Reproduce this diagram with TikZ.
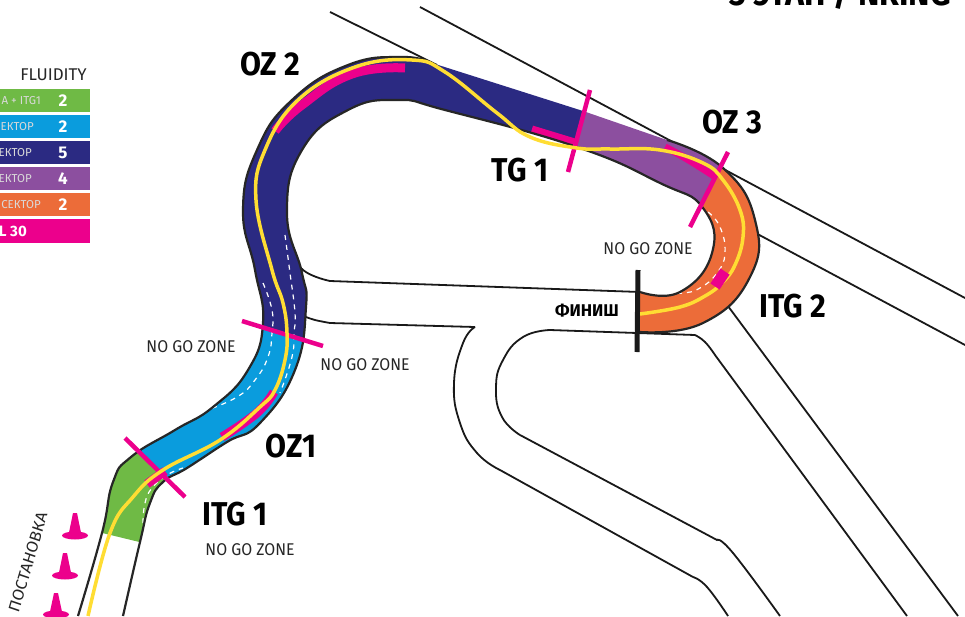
\documentclass[tikz,border=0pt]{standalone}
\usepackage{fontspec}
\setmainfont{Fira Sans}
\definecolor{itggreen}{HTML}{6FBA45}
\definecolor{zoneblue}{HTML}{0A9CDD}
\definecolor{zonenavy}{HTML}{2B2A82}
\definecolor{zonepurple}{HTML}{8C4F9F}
\definecolor{zoneorange}{HTML}{EC6C39}
\definecolor{ozpink}{HTML}{EC008C}
\definecolor{racingline}{HTML}{FFDD33}
\tikzset{
  outerone/.style={insert path={plot[smooth,tension=0.8] coordinates {(78,616) (102,533) (113,482) (131,457) (175,430) (213,407) (248,370) (263,323) (255,270) (243,210) (257,150) (292,100) (348,65) (402,57) (432,63)}}},
  outertwo/.style={insert path={plot[smooth,tension=0.8] coordinates {(667,140) (723,168) (755,220) (750,277) (703,323) (640,332)}}},
  innerpath/.style={insert path={plot[smooth,tension=0.8] coordinates {(640,292) (680,292) (712,253) (703,208) (660,183) (577,147) (445,110) (398,100) (348,110) (302,150) (287,213) (302,273) (306,307) (295,370) (260,423) (227,442) (187,468) (163,482) (150,503) (140,542) (123,616)}}},
  trackshape/.style={insert path={plot[smooth,tension=0.8] coordinates {(78,616) (102,533) (113,482) (131,457) (175,430) (213,407) (248,370) (263,323) (255,270) (243,210) (257,150) (292,100) (348,65) (402,57) (432,63)} -- (583,111) -- plot[smooth,tension=0.8] coordinates {(667,140) (723,168) (755,220) (750,277) (703,323) (640,332)} -- plot[smooth,tension=0.8] coordinates {(640,292) (680,292) (712,253) (703,208) (660,183) (577,147) (445,110) (398,100) (348,110) (302,150) (287,213) (302,273) (306,307) (295,370) (260,423) (227,442) (187,468) (163,482) (150,503) (140,542) (123,616)} -- cycle}},
  roadline/.style={draw=black!90,line width=1.8pt},
  trackedge/.style={draw=black!85,line width=2.2pt},
  whitedash/.style={draw=white,line width=1.2pt,dash pattern=on 5pt off 5pt},
  ozband/.style={draw=ozpink,line width=9pt},
  heading/.style={font=\fontsize{33}{33}\bfseries,text=black,inner sep=0pt,xscale=.92},
  nogo/.style={font=\fontsize{17}{17}\selectfont,text=black!85,inner sep=0pt,xscale=.93},
  legendrow/.style={minimum width=90pt,minimum height=23.5pt,inner sep=0pt,anchor=west},
  legendtext/.style={font=\fontsize{11.5}{11.5}\selectfont,text=white!85!black,inner sep=0pt,anchor=east},
  legendnum/.style={font=\fontsize{17}{17}\bfseries,text=white,inner sep=0pt}
}
\begin{document}
\begin{tikzpicture}[x=1pt,y=-1pt]
  \useasboundingbox (0,0) rectangle (965,616);
  \clip (0,0) rectangle (965,616);
  \fill[white] (0,0) rectangle (965,616);
  \begin{scope}[every path/.style={roadline}]
    \path (330,12) -- (437,65);
    \path (420,7) -- (965,298);
    \path (750,230) -- (965,345);
    \path plot[smooth,tension=0.8] coordinates {(290,248) (303,270) (330,281)} -- (640,292);
    \path plot[smooth,tension=0.5] coordinates {(300,315) (315,320) (330,323)} -- (475,327);
    \path plot[smooth,tension=0.8] coordinates {(475,327) (463,343) (454,383) (460,423) (477,453) (500,470)} -- (693,577);
    \path plot[smooth,tension=0.8] coordinates {(693,577) (707,587) (728,616)};
    \path plot[smooth,tension=0.8] coordinates {(780,616) (733,553) (717,540)} -- (520,435);
    \path plot[smooth,tension=0.8] coordinates {(520,435) (502,417) (496,388) (503,360) (523,337) (550,330)} -- (695,335);
    \path plot[smooth,tension=0.8] coordinates {(695,335) (705,342) (715,355)} -- (907,616);
    \path (722,298) -- (958,616);
  \end{scope}
  \begin{scope}
    \clip[trackshape];
    \fill[itggreen] (90,530) -- (160,547) -- (199,511) -- (110,423) -- cycle;
    \fill[zoneblue] (110,423) -- (199,511) -- (340,450) -- (335,348) -- (230,318) -- cycle;
    \fill[zonenavy] (230,318) -- (335,348) -- (420,200) -- (562,194) -- (597,64) -- (597,40) -- (220,40) -- cycle;
    \fill[zonepurple] (597,64) -- (735,138) -- (683,240) -- (562,194) -- cycle;
    \fill[zoneorange] (735,138) -- (800,150) -- (800,360) -- (638,360) -- (640,262) -- (683,240) -- cycle;
  \end{scope}
  \begin{scope}[every path/.style={whitedash}]
    \path plot[smooth,tension=0.8] coordinates {(708,212) (720,227) (725,253) (717,273) (700,288) (683,293) (663,293)};
    \path plot[smooth,tension=0.8] coordinates {(285,235) (290,273) (295,313) (294,333) (292,357) (280,393)};
    \path plot[smooth,tension=0.8] coordinates {(263,283) (272,310) (272,333) (268,357) (255,380) (237,397) (207,410)};
    \path plot[smooth,tension=0.8] coordinates {(143,523) (145,503) (152,488) (167,475) (183,468)};
  \end{scope}
  \draw[ozband] plot[smooth,tension=0.8] coordinates {(222,437) (245,422) (262,408) (274,392)};
  \draw[ozband] (147,484) -- (165,471);
  \draw[ozband] plot[smooth,tension=0.8] coordinates {(275,131) (302,105) (352,74) (405,68)};
  \draw[ozband,line width=7pt] (532,129) -- (578,143);
  \draw[ozband,line width=7pt] plot[smooth,tension=0.8] coordinates {(665,147) (687,159) (714,176)};
  \draw[trackedge,outerone];
  \draw[trackedge,outertwo];
  \draw[trackedge,innerpath];
  \coordinate (gateonea) at (125,438);
  \coordinate (gateoneb) at (185,497);
  \coordinate (gatetwoa) at (242,321);
  \coordinate (gatetwob) at (323,346);
  \coordinate (gatethreea) at (590,90);
  \coordinate (gatethreeb) at (568,172);
  \coordinate (gatefoura) at (728,152);
  \coordinate (gatefourb) at (690,227);
  \coordinate (finisha) at (638,270);
  \coordinate (finishb) at (637,352);
  \begin{scope}[every edge/.style={draw=ozpink,line width=4.5pt}]
    \path (gateonea) edge (gateoneb);
    \path (gatetwoa) edge (gatetwob);
    \path (gatethreea) edge (gatethreeb);
    \path (gatefoura) edge (gatefourb);
  \end{scope}
  \draw[racingline,line width=3.5pt] plot[smooth,tension=0.7] coordinates {(88,616) (110,533) (133,497) (163,470) (220,440) (260,407) (275,390) (285,360) (287,333) (283,303) (272,270) (256,200) (265,150) (298,100) (355,67) (412,60) (445,72) (497,113) (530,137) (577,148) (610,149) (660,150) (703,163) (723,180) (740,210) (743,237) (735,265) (722,283) (705,296) (680,307) (640,314)};
  \node[fill=ozpink,minimum width=18pt,minimum height=11pt,inner sep=0pt,rotate=56] (itgmark) at (720,279) {};
  \path[draw=black!90,line width=5pt] (finisha) -- (finishb);
  \begin{scope}[every node/.style={legendrow}]
    \node[fill=itggreen] (rowgreen) at (0,100.5) {};
    \node[fill=zoneblue] (rowblue) at (0,126.5) {};
    \node[fill=zonenavy] (rownavy) at (0,152.5) {};
    \node[fill=zonepurple] (rowpurple) at (0,178.5) {};
    \node[fill=zoneorange] (roworange) at (0,204.5) {};
    \node[fill=ozpink] (rowpink) at (0,231) {};
  \end{scope}
  \node[nogo,xscale=1.07] (fluidity) at (53.5,74.5) {FLUIDITY};
  \node[legendtext] (textgreen) at (41,101) {A + ITG1};
  \node[legendtext] (textblue) at (34,127) {ЕКТОР};
  \node[legendtext] (textnavy) at (32,153) {ЕКТОР};
  \node[legendtext] (textpurple) at (32,179) {ЕКТОР};
  \node[legendtext] (textorange) at (41,205) {СЕКТОР};
  \node[font=\fontsize{15}{15}\bfseries,text=white,inner sep=0pt,anchor=east] (textpink) at (27,231.5) {L 30};
  \node[legendnum] (numgreen) at (63,101) {2};
  \node[legendnum] (numblue) at (63,127) {2};
  \node[legendnum] (numnavy) at (63,153) {5};
  \node[legendnum] (numpurple) at (63,179) {4};
  \node[legendnum] (numorange) at (63,205) {2};
  \begin{scope}[every node/.style={heading}]
    \node (ozone) at (291,446) {OZ1};
    \node (oztwo) at (270,64) {OZ 2};
    \node (ozthree) at (732,122) {OZ 3};
    \node (tgone) at (520,170) {TG 1};
    \node (itgone) at (235,514) {ITG 1};
    \node (itgtwo) at (793,306) {ITG 2};
    \node[font=\fontsize{35}{35}\bfseries,anchor=base east] (stage) at (951,5) {3 ЭТАП / NRING};
  \end{scope}
  \begin{scope}[every node/.style={nogo}]
    \node (nogoa) at (648,249) {NO GO ZONE};
    \node (nogob) at (191,347) {NO GO ZONE};
    \node (nogoc) at (365,365) {NO GO ZONE};
    \node (nogod) at (250,550) {NO GO ZONE};
    \node[rotate=72.5] (setup) at (28,562) {ПОСТАНОВКА};
  \end{scope}
  \node[font=\fontsize{17}{17}\bfseries,text=black,inner sep=0pt] (finishlabel) at (587,311) {ФИНИШ};
  \fill[ozpink] (68.5,535) -- (73,513) -- (77,513) -- (81.5,535) -- cycle;
  \fill[ozpink] (75,535.5) ellipse (13 and 4);
  \fill[ozpink] (58.5,575) -- (63,553) -- (67,553) -- (71.5,575) -- cycle;
  \fill[ozpink] (65,575.5) ellipse (13 and 4);
  \fill[ozpink] (49.5,614) -- (54,593) -- (58,593) -- (62.5,614) -- cycle;
  \fill[ozpink] (56,614.5) ellipse (13 and 4);
\end{tikzpicture}
\end{document}
